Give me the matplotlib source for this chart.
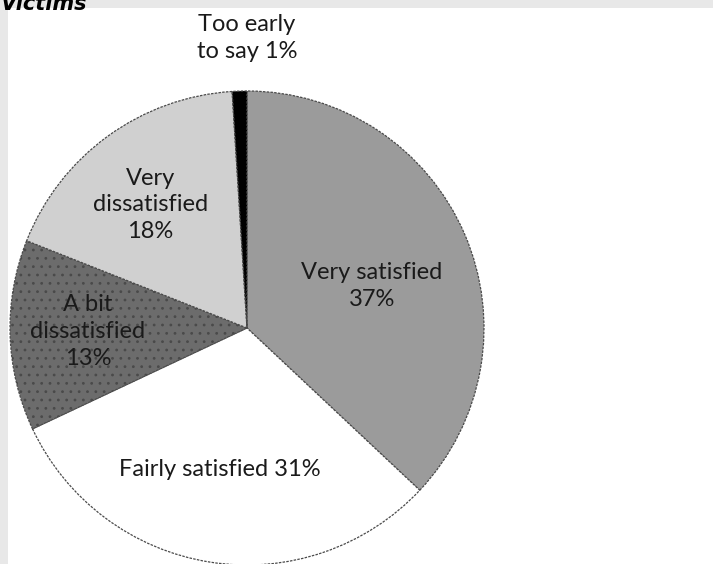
import matplotlib
matplotlib.use("Agg")
import matplotlib.pyplot as plt

# data, clockwise from 12 o'clock
labels = ["Very satisfied\n37%", "Fairly satisfied 31%", "A bit\ndissatisfied\n13%",
          "Very\ndissatisfied\n18%", "Too early\nto say 1%"]
values = [37, 31, 13, 18, 1]
colors = ["#9b9b9b", "#ffffff", "#6c6c6c", "#d0d0d0", "#000000"]
hatches = ["", "", "..", "", ""]

# label positions (in pie radius units)
label_pos = [(0.527, 0.177), (-0.114, -0.599), (-0.671, -0.013),
             (-0.409, 0.519), (0.0, 1.225)]

W, H = 713, 564
fig = plt.figure(figsize=(W / 100, H / 100), dpi=100, facecolor="#e8e8e8")

plt.rcParams["hatch.color"] = "#3a3a3a"
plt.rcParams["hatch.linewidth"] = 0.8

# white drawing area, leaves the grey strip on the left and top
left_px, top_px = 8, 8
ax = fig.add_axes([left_px / W, 0, (W - left_px) / W, (H - top_px) / H])
ax.set_facecolor("white")

wedges, _ = ax.pie(values, colors=colors, startangle=90, counterclock=False,
                   radius=1, center=(0, 0),
                   wedgeprops=dict(edgecolor="#4a4a4a", linewidth=0.9,
                                   linestyle=(0, (2, 1))))
for w, h in zip(wedges, hatches):
    if h:
        w.set_hatch(h)

cx, cy, r = 247, 328, 237  # pie centre and radius in pixels
ax.set_xlim((left_px - cx) / r, (W - cx) / r)
ax.set_ylim((cy - H) / r, (cy - top_px) / r)
ax.set_aspect("auto")
ax.axis("off")
ax.add_patch(plt.Rectangle((-5, -5), 10, 10, color="white", zorder=0))

for lab, (x, y) in zip(labels, label_pos):
    ax.text(x, y, lab, ha="center", va="center", fontsize=17,
            family="Lato", color="#1a1a1a", linespacing=1.35)

fig.text(0.0, 0.993, "Victims", ha="left", va="center", fontsize=15,
         fontweight="bold", style="italic", family="DejaVu Sans", color="black")

fig.savefig("out.png", dpi=100, facecolor=fig.get_facecolor())
